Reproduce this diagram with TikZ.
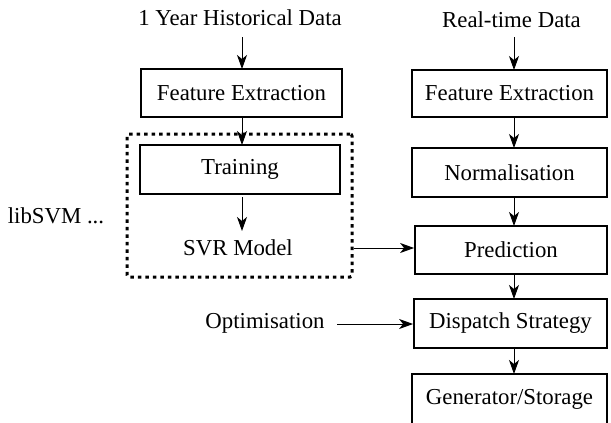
\documentclass[tikz,border=0pt]{standalone}
\usepackage{fontspec}
\setmainfont{Liberation Serif}
\usetikzlibrary{arrows.meta,positioning}
\tikzset{
  stagebox/.style={draw, line width=1.8pt, inner sep=0pt, font=\fontsize{22.8}{27}\selectfont},
  label/.style={inner sep=0pt, font=\fontsize{22.8}{27}\selectfont},
  flow/.style={line width=1pt, -{Stealth[length=14pt,width=10pt,inset=4pt]}},
  group/.style={draw, line width=3pt, dash pattern=on 3.5pt off 4pt, rounded corners=2pt},
}
\begin{document}
\begin{tikzpicture}[x=1pt,y=-1pt]
\useasboundingbox (0,0) rectangle (611,423);

% training path
\node[label] (hist) at (240,18) {1 Year Historical Data};
\node[stagebox, minimum width=201pt, minimum height=48pt] (fe1) at (241.5,93) {Feature Extraction};
\node[group, minimum width=225pt, minimum height=143pt] (svm) at (239.5,205.5) {};
\node[stagebox, minimum width=200pt, minimum height=49pt] (train) at (240,169.5) {Training};
\node[label] (model) at (238,248) {SVR Model};
\node[label] (lib) at (56,216) {libSVM ...};

% operation path
\node[label] (rt) at (511.5,20) {Real-time Data};
\node[stagebox, minimum width=195pt, minimum height=47pt] (fe2) at (509.5,93.5) {Feature Extraction};
\node[stagebox, minimum width=195pt, minimum height=49pt] (norm) at (509.5,172.5) {Normalisation};
\node[stagebox, minimum width=192pt, minimum height=48pt] (pred) at (511,250) {Prediction};
\node[stagebox, minimum width=193pt, minimum height=49pt] (disp) at (510.5,323.5) {Dispatch Strategy};
\node[stagebox, minimum width=195pt, minimum height=50pt] (gen) at (509.5,399) {Generator/Storage};
\node[label] (opt) at (265,323) {Optimisation};

% connectors
\draw[flow] (242,37) -- (242,69);
\draw[flow] (242,117) -- (242,145);
\draw[flow] (242,197) -- (242,231);
\draw[flow] (svm.east |- model) -- (pred.west |- model);
\draw[flow] (514,37) -- (514,70);
\draw[flow] (514,117) -- (514,148);
\draw[flow] (514,197) -- (514,226);
\draw[flow] (514,274) -- (514,299);
\draw[flow] (514,348) -- (514,374);
\draw[flow] (337,324) -- (disp.west |- 0,324);
\end{tikzpicture}
\end{document}
